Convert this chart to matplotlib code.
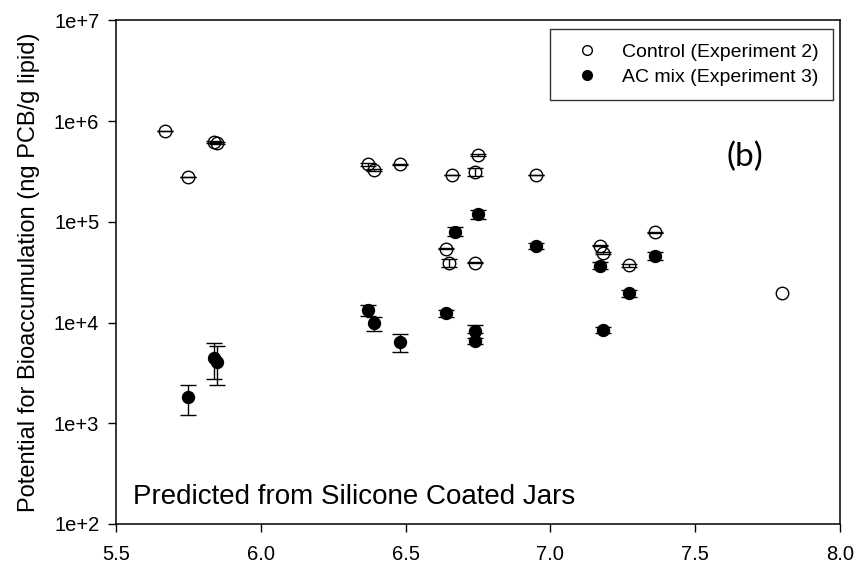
import numpy as np
import matplotlib
matplotlib.use("Agg")
import matplotlib.pyplot as plt
from matplotlib.lines import Line2D

plt.rcParams['font.family'] = ['Liberation Sans', 'DejaVu Sans']

# Control (Experiment 2)
control_x = [5.67, 5.75, 5.84, 5.85, 6.37, 6.39, 6.48, 6.66, 6.74, 6.75,
             6.64, 6.65, 6.74, 6.95, 7.17, 7.18, 7.27, 7.36, 7.80]
control_y = [8.0e5, 2.77e5, 6.2e5, 6.1e5, 3.73e5, 3.27e5, 3.73e5, 2.92e5, 3.13e5, 4.6e5,
             5.4e4, 3.93e4, 3.93e4, 2.92e5, 5.8e4, 4.94e4, 3.7e4, 7.9e4, 1.98e4]
control_err = [0.02e5, 0.05e4, 0.1e5, 0.1e5, 0.1e5, 0.1e5, 0.05e5, 0.05e4, 0.3e5, 0.1e5,
               0.05e4, 0.35e4, 0.05e4, 0.05e4, 0.1e4, 0.1e4, 0.1e4, 0.1e4, 0.0]

# AC mix (Experiment 3)
ac_x = [5.75, 5.84, 5.85, 6.37, 6.39, 6.48, 6.67, 6.75, 6.64, 6.74,
        6.74, 6.95, 7.17, 7.18, 7.27, 7.36]
ac_y = [1.84e3, 4.5e3, 4.1e3, 1.33e4, 9.8e3, 6.4e3, 8.0e4, 1.19e5, 1.24e4, 8.2e3,
        6.6e3, 5.77e4, 3.67e4, 8.45e3, 1.95e4, 4.6e4]
ac_lo = [0.62e3, 1.75e3, 1.7e3, 0.16e4, 1.5e3, 1.35e3, 0.8e4, 1.2e4, 0.1e4, 0.4e3,
         0.5e3, 0.45e4, 0.3e4, 0.6e3, 0.15e4, 0.4e4]
ac_hi = [0.56e3, 1.8e3, 1.7e3, 0.16e4, 1.5e3, 1.25e3, 0.8e4, 1.2e4, 0.1e4, 1.3e3,
         0.5e3, 0.45e4, 0.3e4, 0.6e3, 0.15e4, 0.4e4]

fig = plt.figure(figsize=(8.56, 5.63), dpi=100)
ax = fig.add_axes([0.1355, 0.0693, 0.8458, 0.8943])

ax.errorbar(ac_x, ac_y, yerr=[ac_lo, ac_hi], fmt='o', color='black',
            markersize=8.6, mfc='black', mec='black', ecolor='black',
            elinewidth=1.0, capsize=6, capthick=1.0, zorder=3)

# only points that have an error bar get one
cx = np.array(control_x)
cy = np.array(control_y)
ce = np.array(control_err)
has_err = ce > 0
ax.errorbar(cx[has_err], cy[has_err], yerr=ce[has_err], fmt='none', ecolor='black',
            elinewidth=1.0, capsize=6, capthick=1.0, zorder=4)
ax.plot(cx, cy, 'o', markersize=9, mfc='none', mec='black', mew=1.0, zorder=5)

ax.set_yscale('log')
ax.set_xlim(5.5, 8.0)
ax.set_ylim(1e2, 1e7)
ax.set_xticks([5.5, 6.0, 6.5, 7.0, 7.5, 8.0])
ax.set_xticklabels(['5.5', '6.0', '6.5', '7.0', '7.5', '8.0'])
ax.set_yticks([1e2, 1e3, 1e4, 1e5, 1e6, 1e7])
ax.set_yticklabels(['1e+2', '1e+3', '1e+4', '1e+5', '1e+6', '1e+7'])
ax.yaxis.set_minor_locator(matplotlib.ticker.NullLocator())
ax.tick_params(axis='both', direction='out', length=6, width=1.0,
               labelsize=14.5, top=False, right=False)
ax.tick_params(axis='x', pad=9)
ax.tick_params(axis='y', pad=6)
for s in ax.spines.values():
    s.set_linewidth(1.1)

ax.set_ylabel('Potential for Bioaccumulation (ng PCB/g lipid)', fontsize=17, labelpad=10)

ax.text(0.023, 0.028, 'Predicted from Silicone Coated Jars', transform=ax.transAxes,
        fontsize=20, ha='left', va='bottom')
ax.text(0.869, 0.729, '(b)', transform=ax.transAxes, fontsize=24, family='Lato',
        ha='center', va='center')

handles = [Line2D([], [], ls='none', marker='o', mfc='white', mec='black', markersize=7),
           Line2D([], [], ls='none', marker='o', mfc='black', mec='black', markersize=7)]
leg = ax.legend(handles, ['Control (Experiment 2)', 'AC mix (Experiment 3)'],
                loc='upper right', bbox_to_anchor=(0.990, 0.983), borderaxespad=0,
                fontsize=14, frameon=True, fancybox=False, borderpad=0.75,
                handletextpad=0.65, labelspacing=0.35, handlelength=2.3)
leg.get_frame().set_edgecolor('black')
leg.get_frame().set_linewidth(1.0)

fig.savefig('out.png', dpi=100)
